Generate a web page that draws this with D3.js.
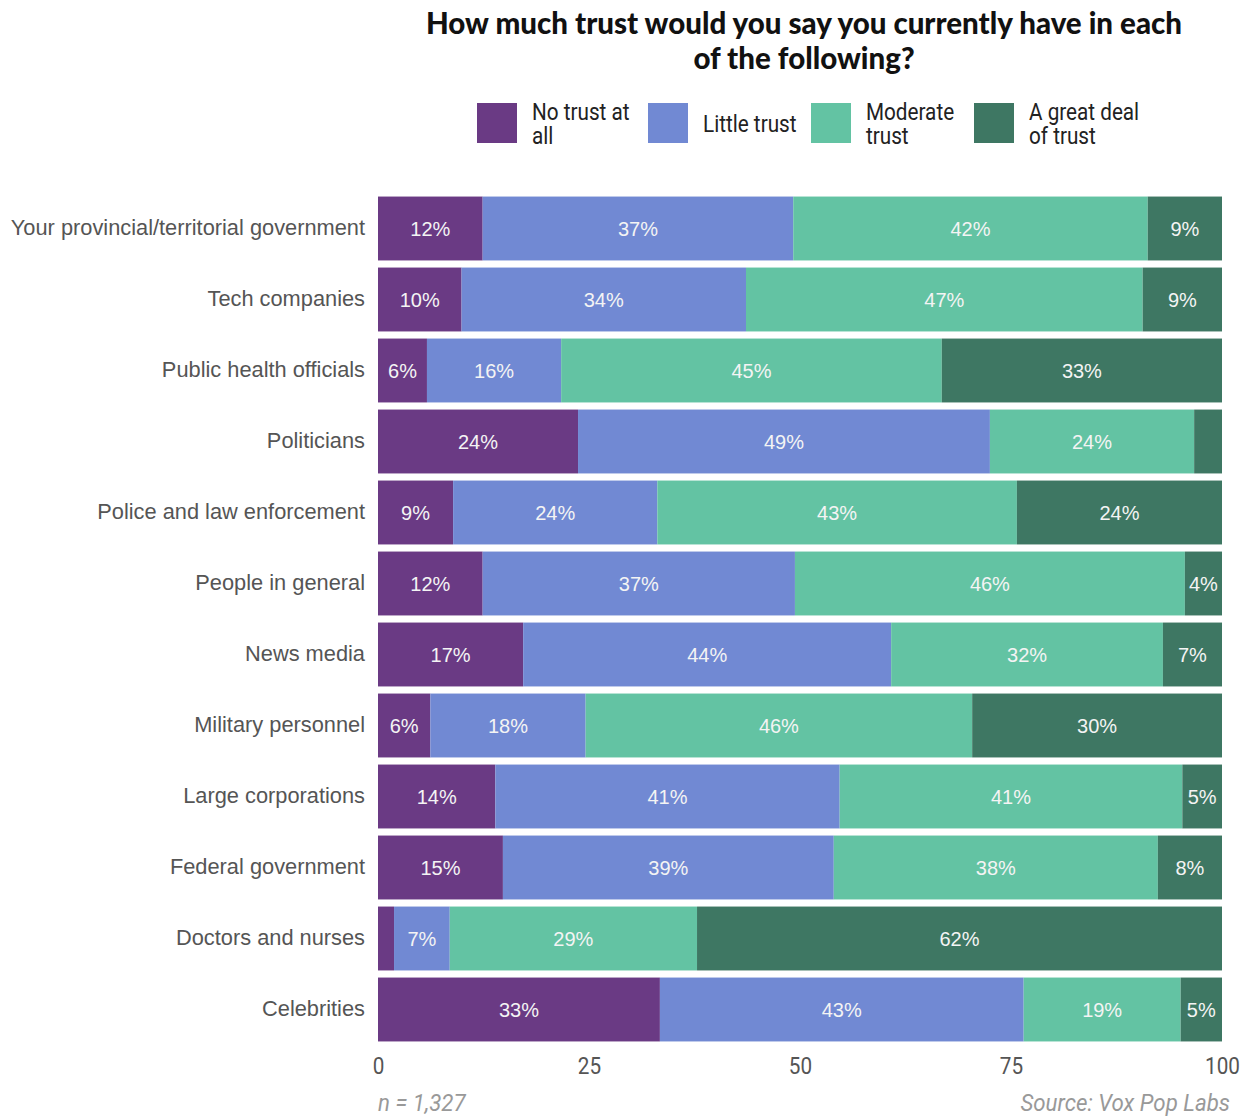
<!DOCTYPE html>
<html><head><meta charset="utf-8">
<script src="https://cdn.jsdelivr.net/npm/d3@7"></script>
<style>body{margin:0;background:#fff}</style>
</head><body>
<svg id="chart" width="1244" height="1118"></svg>
<script>
const categories = ["Your provincial/territorial government","Tech companies","Public health officials","Politicians","Police and law enforcement","People in general","News media","Military personnel","Large corporations","Federal government","Doctors and nurses","Celebrities"];
const seriesNames = ["No trust at all","Little trust","Moderate trust","A great deal of trust"];
const legendLines = [["No trust at","all"],["Little trust"],["Moderate","trust"],["A great deal","of trust"]];
const noTrust   = [12.4, 9.9, 5.8, 23.7, 8.9, 12.4, 17.2, 6.2, 13.9, 14.8, 1.9, 33.4];
const little    = [36.8, 33.7, 15.9, 48.8, 24.2, 37.0, 43.6, 18.4, 40.8, 39.2, 6.6, 43.1];
const moderate  = [42.0, 47.0, 45.1, 24.2, 42.6, 46.2, 32.2, 45.8, 40.6, 38.4, 29.3, 18.6];
const greatDeal = [8.8, 9.4, 33.2, 3.3, 24.3, 4.4, 7.0, 29.6, 4.7, 7.6, 62.2, 4.9];
const tickValues = [0, 25, 50, 75, 100];
const colors = ["#6a3a84", "#7189d3", "#63c3a3", "#3e7763"];

const ARIAL = "Arial, 'Liberation Sans', sans-serif";
const NARROW = "Roboto, sans-serif";
const SQ = 0.9; // horizontal squeeze to imitate condensed face

const svg = d3.select("#chart");
const x = d3.scaleLinear().domain([0,100]).range([378,1222]);
const y = d3.scaleBand().domain(categories).range([193,1045]).paddingInner(0.1).paddingOuter(0.05);

const rows = categories.map((c,i)=>({cat:c, noTrust:noTrust[i], little:little[i], moderate:moderate[i], greatDeal:greatDeal[i]}));
const keys = ["noTrust","little","moderate","greatDeal"];
const stacked = d3.stack().keys(keys)(rows);

// title
[["How much trust would you say you currently have in each",34],["of the following?",69]].forEach(([t,yy])=>{
  svg.append("text").attr("x",804).attr("y",yy).attr("text-anchor","middle")
    .attr("font-family","Lato, 'Noto Sans', sans-serif").attr("font-weight",900).attr("font-size",29.5).attr("fill","#111")
    .text(t);
});

// legend
const legX = [477, 648, 811, 974];
const legG = svg.append("g");
seriesNames.forEach((s,i)=>{
  legG.append("rect").attr("x",legX[i]).attr("y",103).attr("width",40).attr("height",40).attr("fill",colors[i]);
  const lines = legendLines[i];
  const ys = lines.length===1 ? [132] : [120,144];
  lines.forEach((ln,j)=>{
    legG.append("text").attr("transform",`translate(${legX[i]+55},${ys[j]}) scale(${SQ},1)`)
      .attr("font-family",NARROW).attr("font-size",23).attr("fill","#222").text(ln);
  });
});

// bars
const layer = svg.append("g").selectAll("g").data(stacked).join("g").attr("fill",(d,i)=>colors[i]);
layer.selectAll("rect").data(d=>d).join("rect")
  .attr("x",d=>x(d[0])).attr("y",d=>y(d.data.cat))
  .attr("width",d=>x(d[1])-x(d[0])).attr("height",y.bandwidth());

// bar labels
const lab = svg.append("g").selectAll("g").data(stacked).join("g");
lab.selectAll("text").data(d=>d.filter(v=>v[1]-v[0]>=4)).join("text")
  .attr("x",d=>(x(d[0])+x(d[1]))/2).attr("y",d=>y(d.data.cat)+y.bandwidth()/2+7)
  .attr("text-anchor","middle").attr("font-family",ARIAL)
  .attr("font-size",20).attr("fill","#f4f4f4")
  .text(d=>Math.round(d[1]-d[0])+"%");

// y axis labels
const yAxis = svg.append("g").attr("transform","translate(378,0)")
  .call(d3.axisLeft(y).tickSize(0).tickPadding(13));
yAxis.select(".domain").remove();
yAxis.selectAll("text").attr("font-family",ARIAL).attr("font-size",21.8).attr("fill","#555");

// x axis
const xAxis = svg.append("g").attr("transform","translate(0,1050)")
  .call(d3.axisBottom(x).tickValues(tickValues).tickSize(0).tickPadding(0));
xAxis.select(".domain").remove();
xAxis.selectAll("text").attr("y",0).attr("dy",0)
  .attr("transform",`translate(0,24) scale(${SQ},1)`)
  .attr("font-family",NARROW).attr("font-size",23).attr("fill","#555");

// footer
svg.append("text").attr("transform",`translate(378,1111) scale(0.97,1)`).attr("font-family",NARROW)
  .attr("font-style","italic").attr("font-size",23).attr("fill","#999").text("n = 1,327");
svg.append("text").attr("transform",`translate(1230,1111) scale(0.97,1)`).attr("text-anchor","end").attr("font-family",NARROW)
  .attr("font-style","italic").attr("font-size",23).attr("fill","#999").text("Source: Vox Pop Labs");
</script>
</body></html>
